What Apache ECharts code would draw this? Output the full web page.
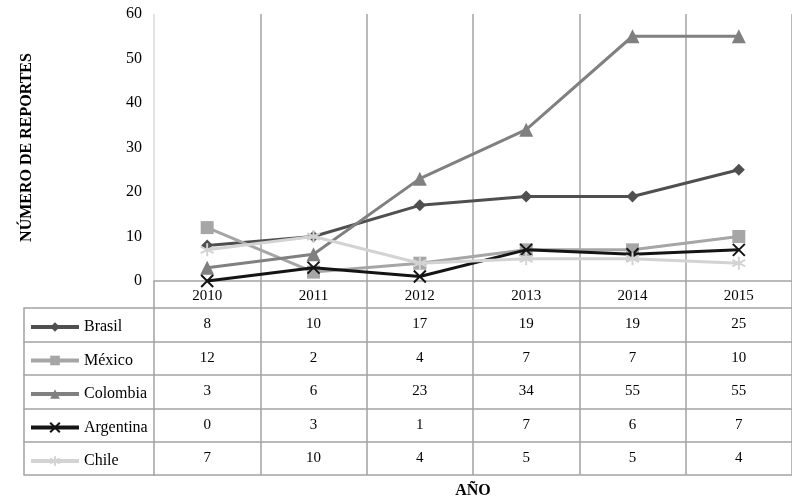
<!DOCTYPE html>
<html>
<head>
<meta charset="utf-8">
<script src="https://cdn.jsdelivr.net/npm/echarts@6/dist/echarts.min.js"></script>
<style>
  html, body { margin: 0; padding: 0; background: #ffffff; }
  #chart { width: 792px; height: 504px; }
</style>
</head>
<body>
<div id="chart"></div>
<script>
// Reports per year and country
const years = ['2010', '2011', '2012', '2013', '2014', '2015'];
const countries = ['Brasil', 'México', 'Colombia', 'Argentina', 'Chile'];
const brasil = [8, 10, 17, 19, 19, 25];
const mexico = [12, 2, 4, 7, 7, 10];
const colombia = [3, 6, 23, 34, 55, 55];
const argentina = [0, 3, 1, 7, 6, 7];
const chile = [7, 10, 4, 5, 5, 4];
const yMin = 0, yMax = 60, yStep = 10;

const rows = [brasil, mexico, colombia, argentina, chile];

const FONT = '"Liberation Serif", "Times New Roman", serif';
const GRID_LINE = '#a3a3a3';

// one style per country: colour and marker
const styles = [
  { color: '#4f4f4f', symbol: 'diamond', size: 12, stroke: 0 },
  { color: '#a6a6a6', symbol: 'rect', size: 13, stroke: 0 },
  { color: '#808080', symbol: 'triangle', size: 14, stroke: 0 },
  { color: '#141414', symbol: 'path://M0,0L10,10M10,0L0,10', size: 12, stroke: 2 },
  { color: '#d3d3d3', symbol: 'path://M5,0L5,10M0.7,2.5L9.3,7.5M9.3,2.5L0.7,7.5', size: 13, stroke: 2 }
];

// data table rows sit under the plot: border offsets from the category axis
const rowOffsets = [27, 61, 94, 127.5, 161, 194];

const xAxes = [];
const series = [];

// years row + vertical grid lines of the plot
xAxes.push({
  gridIndex: 0, type: 'category', data: years, position: 'bottom', boundaryGap: true,
  axisLine: { show: true, onZero: false, lineStyle: { color: GRID_LINE, width: 1.5 } },
  axisTick: { show: true, interval: 0, length: rowOffsets[0], lineStyle: { color: GRID_LINE, width: 1.5 } },
  axisLabel: { interval: 0, margin: 8, fontFamily: FONT, fontSize: 15, color: '#000' },
  splitLine: { show: true, interval: 0, lineStyle: { color: ['#dadada', GRID_LINE, GRID_LINE, GRID_LINE, GRID_LINE, GRID_LINE, GRID_LINE], width: 1.5 } }
});

// value rows of the data table
rows.forEach((vals, i) => {
  xAxes.push({
    gridIndex: 0, type: 'category', data: years, position: 'bottom', offset: rowOffsets[i],
    axisLine: { show: true, onZero: false, lineStyle: { color: GRID_LINE, width: 1.5 } },
    axisTick: { show: true, interval: 0, length: rowOffsets[i + 1] - rowOffsets[i], lineStyle: { color: GRID_LINE, width: 1.5 } },
    axisLabel: { interval: 0, margin: 9, fontFamily: FONT, fontSize: 15, color: '#000',
      formatter: (v, idx) => String(vals[idx]) },
    splitLine: { show: false }
  });
});

// closing line of the table, with the horizontal axis title
xAxes.push({
  gridIndex: 0, type: 'category', data: years, position: 'bottom', offset: rowOffsets[5],
  axisLine: { show: true, onZero: false, lineStyle: { color: GRID_LINE, width: 1.5 } },
  axisTick: { show: false }, axisLabel: { show: false }, splitLine: { show: false },
  name: 'AÑO', nameLocation: 'middle', nameGap: 8,
  nameTextStyle: { fontFamily: FONT, fontSize: 16, fontWeight: 'bold', color: '#000' }
});

// legend column borders of the table
rowOffsets.forEach((off, i) => {
  xAxes.push({
    gridIndex: 1, type: 'category', data: [''], position: 'bottom', offset: off, boundaryGap: true,
    axisLine: { show: true, onZero: false, lineStyle: { color: GRID_LINE, width: 1.5 } },
    axisTick: { show: i < 5, interval: 0, length: i < 5 ? rowOffsets[i + 1] - off : 0, lineStyle: { color: GRID_LINE, width: 1.5 } },
    axisLabel: { show: false }, splitLine: { show: false }
  });
});

countries.forEach((name, i) => {
  const s = styles[i];
  series.push({
    name: name, type: 'line', xAxisIndex: 0, yAxisIndex: 0, data: rows[i],
    symbol: s.symbol, symbolSize: s.size, showSymbol: true,
    lineStyle: { color: s.color, width: 3 },
    itemStyle: { color: s.color, borderColor: s.color, borderWidth: s.stroke },
    emphasis: { disabled: true },
    animation: false, z: 2 + i
  });
});

const chart = echarts.init(document.getElementById('chart'), null, { renderer: 'canvas' });
chart.setOption({
  backgroundColor: '#ffffff',
  animation: false,
  grid: [
    { left: 154, top: 14, width: 648, height: 267 },
    { left: 24, top: 14, width: 130, height: 267 }
  ],
  legend: {
    orient: 'vertical', left: 24, top: 314,
    itemWidth: 48, itemHeight: 12, itemGap: 17.5,
    data: countries,
    lineStyle: { width: 4 },
    textStyle: { fontFamily: FONT, fontSize: 16, color: '#000' },
    selectedMode: false
  },
  xAxis: xAxes,
  yAxis: [
    {
      gridIndex: 0, type: 'value', min: yMin, max: yMax, interval: yStep,
      axisLine: { show: false }, axisTick: { show: false }, splitLine: { show: false },
      axisLabel: { margin: 12, fontFamily: FONT, fontSize: 16, color: '#000' },
      name: 'NÚMERO DE REPORTES', nameLocation: 'middle', nameGap: 119, nameRotate: 90,
      nameTextStyle: { fontFamily: FONT, fontSize: 16, fontWeight: 'bold', color: '#000' }
    },
    { gridIndex: 1, type: 'value', min: 0, max: 1, show: false }
  ],
  series: series
});
</script>
</body>
</html>
